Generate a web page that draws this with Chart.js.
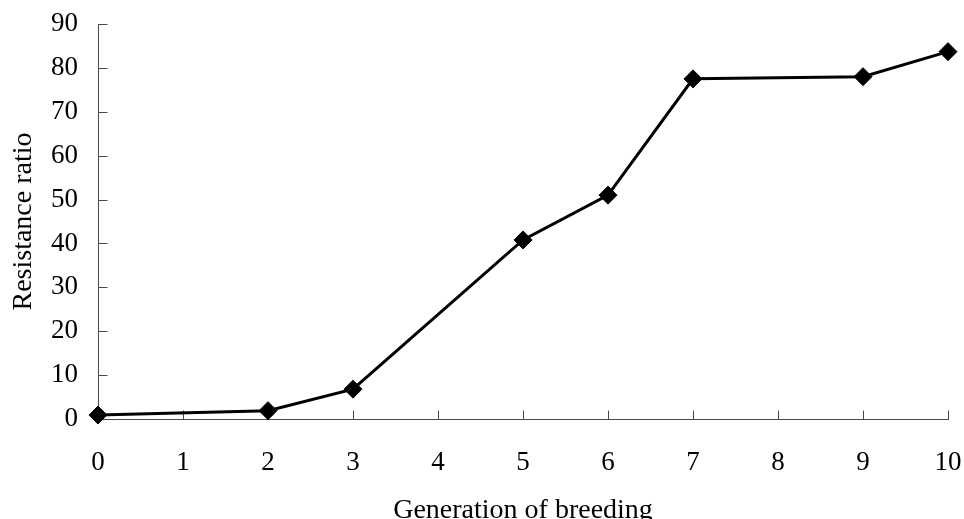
<!DOCTYPE html>
<html>
<head>
<meta charset="utf-8">
<script src="https://cdn.jsdelivr.net/npm/chart.js@4/dist/chart.umd.min.js"></script>
<style>
  html, body { margin: 0; padding: 0; background: #fff; overflow: hidden; }
  #wrap { width: 964px; height: 519px; }
</style>
</head>
<body>
<div id="wrap"><canvas id="c" width="964" height="519"></canvas></div>
<script>
const generations = [0, 2, 3, 5, 6, 7, 9, 10];
const resistanceRatio = [0.9, 1.9, 6.8, 40.8, 51, 77.5, 78, 83.7];
const xTickValues = [0, 1, 2, 3, 4, 5, 6, 7, 8, 9, 10];
const yTickValues = [0, 10, 20, 30, 40, 50, 60, 70, 80, 90];

const points = generations.map((g, i) => ({ x: g, y: resistanceRatio[i] }));
const FONT = "'Liberation Serif', 'Times New Roman', serif";
const AXIS_COLOR = '#4a4a4a';

const inwardTicks = {
  id: 'inwardTicks',
  beforeDatasetsDraw(chart) {
    const ctx = chart.ctx;
    const xs = chart.scales.x, ys = chart.scales.y;
    ctx.save();
    ctx.strokeStyle = AXIS_COLOR;
    ctx.lineWidth = 1;
    const yBase = Math.round(ys.getPixelForValue(0)) + 0.5;
    xTickValues.forEach(v => {
      if (v === 0) return;
      const px = Math.round(xs.getPixelForValue(v)) + 0.5;
      ctx.beginPath();
      ctx.moveTo(px, yBase);
      ctx.lineTo(px, yBase - 9);
      ctx.stroke();
    });
    const xBase = Math.round(xs.getPixelForValue(0)) + 0.5;
    yTickValues.forEach(v => {
      if (v === 0) return;
      const py = Math.round(ys.getPixelForValue(v)) + 0.5;
      ctx.beginPath();
      ctx.moveTo(xBase, py);
      ctx.lineTo(xBase + 9, py);
      ctx.stroke();
    });
    ctx.restore();
  }
};

function zeroPad(s) {
  s.paddingTop = 0; s.paddingBottom = 0; s.paddingLeft = 0; s.paddingRight = 0;
}

new Chart(document.getElementById('c'), {
  type: 'line',
  data: {
    datasets: [{
      data: points,
      borderColor: '#000',
      backgroundColor: '#000',
      borderWidth: 3,
      pointStyle: 'rectRot',
      pointRadius: 9,
      pointBorderWidth: 1,
      pointBackgroundColor: '#000',
      pointBorderColor: '#000',
      tension: 0,
      clip: false
    }]
  },
  options: {
    responsive: false,
    animation: false,
    events: [],
    layout: { padding: { left: 0, right: 16, top: 24, bottom: 0 } },
    plugins: { legend: { display: false }, tooltip: { enabled: false } },
    scales: {
      x: {
        type: 'linear',
        min: 0, max: 10,
        afterBuildTicks: (s) => { s.ticks = xTickValues.map(v => ({ value: v })); },
        afterFit: (s) => { s.height = 100; zeroPad(s); },
        grid: { display: false, drawTicks: false },
        border: { display: true, color: AXIS_COLOR, width: 1 },
        ticks: { color: '#000', padding: 28, font: { family: FONT, size: 27 }, maxRotation: 0, autoSkip: false },
        title: { display: true, text: 'Generation of breeding', color: '#000', font: { family: FONT, size: 28 }, padding: { top: 0, bottom: -8 } }
      },
      y: {
        type: 'linear',
        min: 0, max: 90,
        afterBuildTicks: (s) => { s.ticks = yTickValues.map(v => ({ value: v })); },
        afterFit: (s) => { s.width = 98; zeroPad(s); },
        grid: { display: false, drawTicks: false },
        border: { display: true, color: AXIS_COLOR, width: 1 },
        ticks: { color: '#000', padding: 20, font: { family: FONT, size: 27 } },
        title: { display: true, text: 'Resistance ratio', color: '#000', font: { family: FONT, size: 28 }, padding: { top: 7, bottom: 0 } }
      }
    }
  },
  plugins: [inwardTicks]
});
</script>
</body>
</html>
